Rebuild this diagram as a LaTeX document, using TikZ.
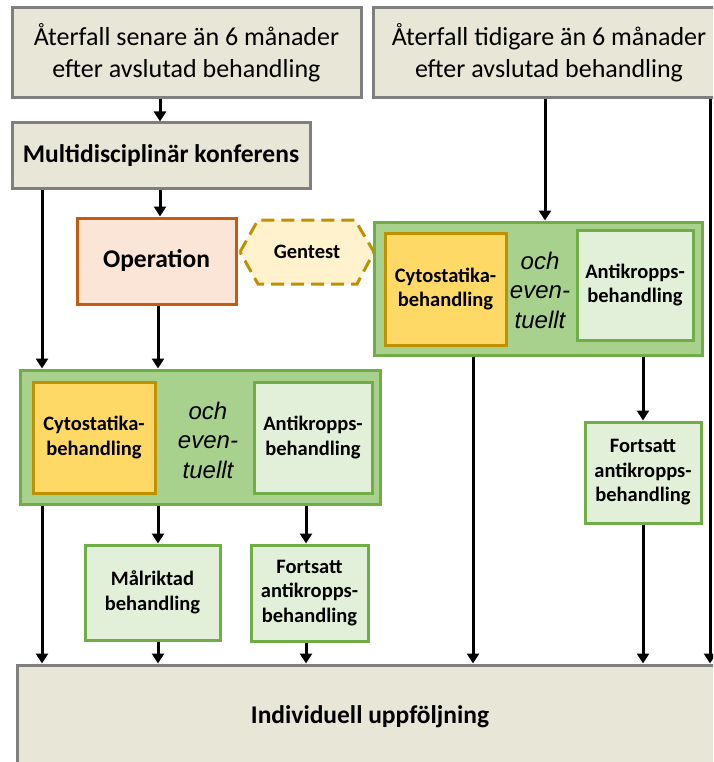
\documentclass[tikz,border=0pt]{standalone}
\usepackage{fontspec}
\setmainfont{Carlito}
\newfontfamily\arialfont{Liberation Sans}
\usetikzlibrary{arrows.meta}
\definecolor{beige}{RGB}{232,230,214}
\definecolor{greyline}{RGB}{127,127,127}
\definecolor{opfill}{HTML}{FBE5D6}
\definecolor{opline}{HTML}{C55A11}
\definecolor{genfill}{HTML}{FFF2CC}
\definecolor{gold}{HTML}{BF9000}
\definecolor{midgreen}{HTML}{A9D18E}
\definecolor{green}{HTML}{70AD47}
\definecolor{cytofill}{HTML}{FFD966}
\definecolor{lightgreen}{HTML}{E2F0D9}
\tikzset{
  box/.style={draw, line width=3pt, inner sep=0pt, align=center, text=black},
  beigebox/.style={box, fill=beige, draw=greyline},
  opbox/.style={box, fill=opfill, draw=opline},
  greenbox/.style={box, fill=midgreen, draw=green},
  cytobox/.style={box, fill=cytofill, draw=gold},
  lgbox/.style={box, fill=lightgreen, draw=green},
  bigtext/.style={font=\fontsize{26}{32}\selectfont},
  bigbold/.style={font=\fontsize{25.5}{31}\selectfont\bfseries},
  smallbold/.style={font=\fontsize{20.5}{24.5}\selectfont\bfseries},
  ochtext/.style={font=\fontsize{24}{29.5}\selectfont\arialfont\itshape, align=center, inner sep=0pt},
  arr/.style={line width=3pt, -{Triangle[width=12pt,length=10pt]}},
}
\begin{document}
\begin{tikzpicture}[x=1pt,y=-1pt]
\useasboundingbox (0,0) rectangle (713,762);
\clip (0,0) rectangle (713,762);
% top boxes
\node[beigebox, bigtext, minimum width=349pt, minimum height=90pt] (A) at (186.5,53) {Återfall senare än 6 månader\\efter avslutad behandling};
\node[beigebox, bigtext, minimum width=352pt, minimum height=90pt] (B) at (549,53) {Återfall tidigare än 6 månader\\efter avslutad behandling};
\node[beigebox, bigbold, minimum width=298pt, minimum height=65pt] (multi) at (161,155.5) {Multidisciplinär konferens};
\node[opbox, bigbold, minimum width=159pt, minimum height=86pt] (op) at (156.5,261) {Operation};
% gentest hexagon
\filldraw[fill=genfill, draw=gold, line width=3pt, dash pattern=on 13pt off 7pt]
  (240,252) -- (258,220) -- (355,220) -- (374,252) -- (357,284) -- (258,284) -- cycle;
\node[smallbold, inner sep=0pt] (gentest) at (307,252) {Gentest};
% right green group
\node[greenbox, minimum width=328pt, minimum height=133pt] (rg) at (538,288.5) {};
\node[cytobox, smallbold, minimum width=121pt, minimum height=112pt] (rcyto) at (445.5,289) {Cytostatika-\\behandling};
\node[lgbox, smallbold, minimum width=116pt, minimum height=110pt] (ranti) at (635,285) {Antikropps-\\behandling};
\node[ochtext] (roch) at (540,290) {och\\even-\\tuellt};
\node[lgbox, smallbold, minimum width=116pt, minimum height=101pt] (rfort) at (643,472.5) {Fortsatt\\antikropps-\\behandling};
% left green group
\node[greenbox, minimum width=360pt, minimum height=134pt] (lg) at (200,437) {};
\node[cytobox, smallbold, minimum width=122pt, minimum height=111pt] (lcyto) at (94,437.5) {Cytostatika-\\behandling};
\node[lgbox, smallbold, minimum width=118pt, minimum height=111pt] (lanti) at (313,437.5) {Antikropps-\\behandling};
\node[ochtext] (loch) at (208,440) {och\\even-\\tuellt};
\node[lgbox, smallbold, minimum width=135pt, minimum height=95pt] (malr) at (152.5,592.5) {Målriktad\\behandling};
\node[lgbox, smallbold, minimum width=117pt, minimum height=96pt] (lfort) at (309.5,593) {Fortsatt\\antikropps-\\behandling};
% bottom
\node[beigebox, bigbold, minimum width=706pt, minimum height=104pt] (indiv) at (370,717) {Individuell uppföljning};
% connectors
\draw[arr] (A.south -| 160,0) -- (multi.north -| 160,0);
\draw[arr] (multi.south -| 160,0) -- (op.north -| 160,0);
\draw[arr] (multi.south -| 42,0) -- (lg.north -| 42,0);
\draw[arr] (op.south -| 158,0) -- (lg.north -| 158,0);
\draw[arr] (B.south -| 545,0) -- (rg.north -| 545,0);
\draw[arr] (B.south -| 710,0) -- (indiv.north -| 710,0);
\draw[arr] (rg.south -| 473,0) -- (indiv.north -| 473,0);
\draw[arr] (rg.south -| 643,0) -- (rfort.north);
\draw[arr] (rfort.south) -- (indiv.north -| rfort.south);
\draw[arr] (lg.south -| 42,0) -- (indiv.north -| 42,0);
\draw[arr] (lg.south -| 158,0) -- (malr.north -| 158,0);
\draw[arr] (lg.south -| 306,0) -- (lfort.north -| 306,0);
\draw[arr] (malr.south -| 158,0) -- (indiv.north -| 158,0);
\draw[arr] (lfort.south -| 306,0) -- (indiv.north -| 306,0);
\end{tikzpicture}
\end{document}
